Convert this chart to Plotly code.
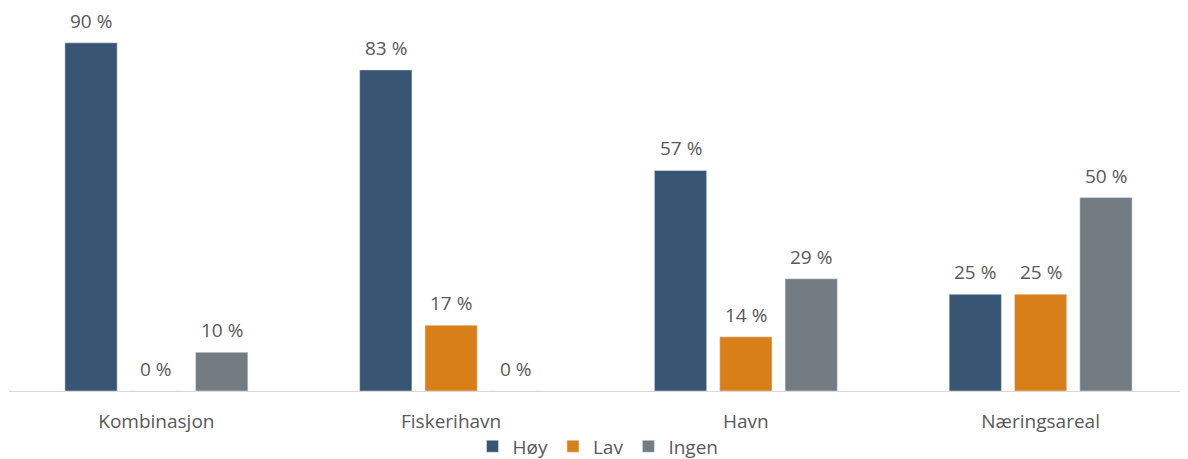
import plotly.graph_objects as go

categories = ['Kombinasjon', 'Fiskerihavn', 'Havn', 'Næringsareal']
hoy = [90, 83, 57, 25]
lav = [0, 17, 14, 25]
ingen = [10, 0, 29, 50]

series = [('Høy', hoy, '#385673'), ('Lav', lav, '#D97F1A'), ('Ingen', ingen, '#737B83')]

GAP = 0.335
fig = go.Figure()
for j, (name, vals, color) in enumerate(series):
    fig.add_trace(go.Bar(x=categories, y=vals, name=name, marker_color=color))
    # value labels above each bar
    off = (j - 1) * (1 - GAP) / 3
    for i, v in enumerate(vals):
        fig.add_annotation(x=i + off, y=v, text=f'{v} %', showarrow=False,
                           xref='x', yref='y', yanchor='bottom', yshift=7,
                           font=dict(size=19, color='#595959'))

# page has an 8px body margin, so the figure is a bit smaller than the window
fig.update_layout(
    barmode='group', bargap=GAP, bargroupgap=0.2,
    width=1180, height=451,
    margin=dict(l=1, r=0, t=0, b=68),
    plot_bgcolor='white', paper_bgcolor='white',
    font=dict(family='Open Sans', size=19, color='#595959'),
    legend=dict(orientation='h', x=0.5, xanchor='center', xref='container',
                y=0.028, yanchor='middle', yref='container',
                bgcolor='rgba(0,0,0,0)',
                font=dict(size=19, color='#595959'), traceorder='normal'),
)
fig.update_xaxes(showline=True, linecolor='#D9D9D9', linewidth=1, ticks='',
                 automargin=False, ticklabelstandoff=13,
                 tickfont=dict(size=19, color='#595959'))
fig.update_yaxes(range=[0, 99], visible=False, showgrid=False, automargin=False)

fig.write_html('out.html')
